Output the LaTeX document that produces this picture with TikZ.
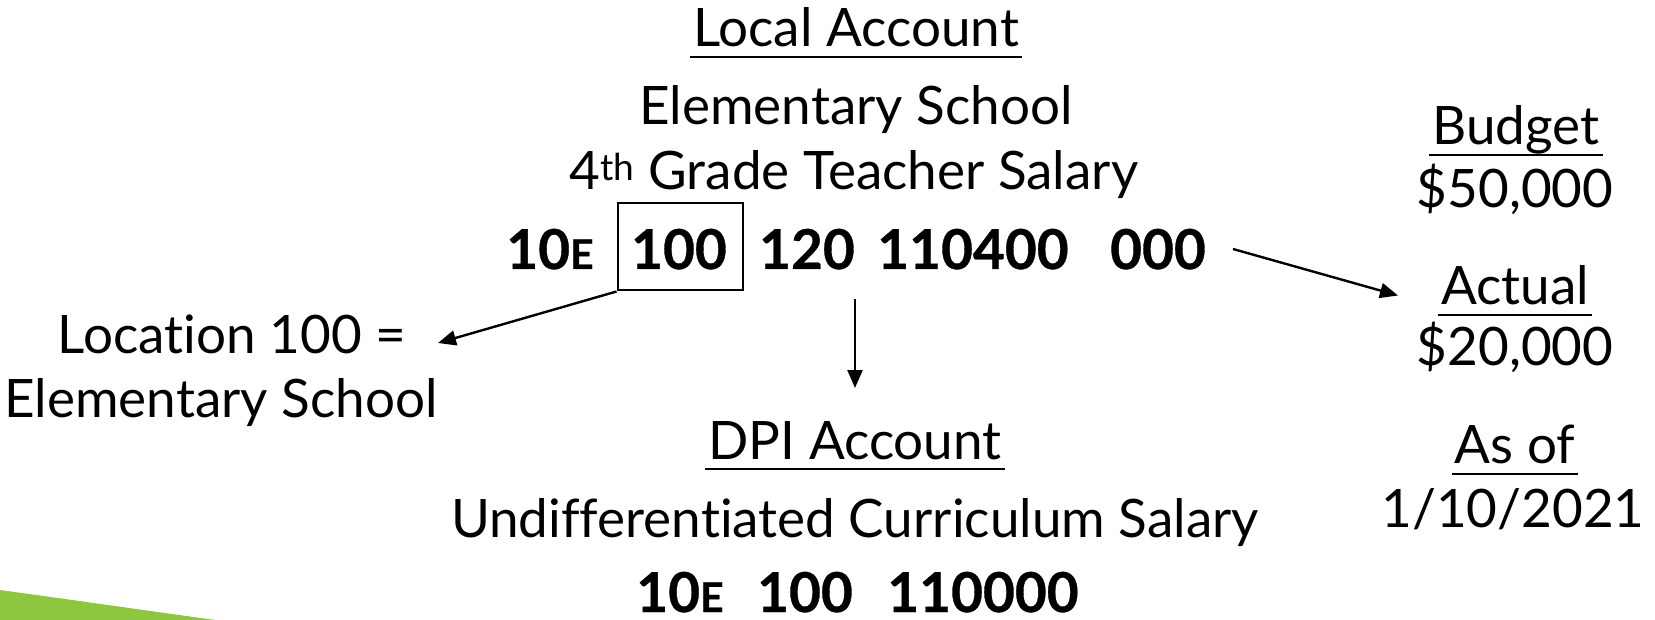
\documentclass[tikz,border=0pt]{standalone}
\usepackage{fontspec}
\setmainfont{Lato}[Ligatures=NoCommon]
\newfontfamily\codefont{Lato}[BoldFeatures={FakeBold=0.6}]
\usetikzlibrary{arrows.meta}
\definecolor{leaf}{HTML}{8DC63F}
\newcommand{\smE}{{\fontsize{41}{44}\selectfont E}}
\begin{document}
\begin{tikzpicture}[x=1pt,y=-1pt,
  txt/.style={inner sep=0pt, anchor=base, font=\fontsize{53}{60}\selectfont},
  bld/.style={inner sep=0pt, anchor=base, font=\fontsize{55}{60}\selectfont\codefont\bfseries},
  arr/.style={-{Triangle[length=18pt,width=15pt]}, line width=2.4pt},
  uline/.style={line width=2.4pt}]
\useasboundingbox (0,0) rectangle (1655,620);
\fill[leaf] (0,590) .. controls (80,601) and (150,611) .. (215,620) -- (0,620) -- cycle;

% Local account
\node[txt] (la) at (856,47) {Local Account};
\draw[uline] ([xshift=-3pt,yshift=-10pt]la.base west) -- ([xshift=3pt,yshift=-10pt]la.base east);
\node[txt] (es) at (856,125) {Elementary School};
\node[txt] (gt) at (854,190) {4\textsuperscript{th} Grade Teacher Salary};

% code line
\node[bld] (c1) at (550,269) {10\smE};
\node[bld] (c2) at (679,269) {100};
\node[draw, line width=2pt, minimum width=125pt, minimum height=87pt, inner sep=0pt] (bx) at (680,247) {};
\node[bld] (c3) at (807,269) {120};
\node[bld] (c4) at (973,269) {110400};
\node[bld] (c5) at (1158,269) {000};

% left note
\node[txt] (loc1) at (232,353) {Location 100 =};
\node[txt] (loc2) at (221,417) {Elementary School};

% DPI
\node[txt] (dpi) at (855,459) {DPI Account};
\draw[uline] ([xshift=-3pt,yshift=-10pt]dpi.base west) -- ([xshift=3pt,yshift=-10pt]dpi.base east);
\node[txt] (uc) at (855,537) {Undifferentiated Curriculum Salary};
\node[bld, text depth=0pt] (d1) at (680,612) {10\smE};
\node[bld, text depth=0pt] (d2) at (805,612) {100};
\node[bld, text depth=0pt] (d3) at (983,612) {110000};

% right column
\node[txt] (bu) at (1516,145) {Budget};
\draw[uline] ([xshift=-3pt,yshift=-10pt]bu.base west) -- ([xshift=3pt,yshift=-10pt]bu.base east);
\node[txt] (bv) at (1515,208) {\$50,000};
\node[txt] (ac) at (1515,305) {Actual};
\draw[uline] ([xshift=-3pt,yshift=-10pt]ac.base west) -- ([xshift=3pt,yshift=-10pt]ac.base east);
\node[txt] (av) at (1515,366) {\$20,000};
\node[txt] (as) at (1515,463) {As of};
\draw[uline] ([xshift=-3pt,yshift=-11pt]as.base west) -- ([xshift=3pt,yshift=-11pt]as.base east);
\node[txt] (ad) at (1513,527) {1/10/2021};

% arrows
\coordinate (a1e) at (438,343);
\draw[arr] (bx.south west) -- (a1e);
\coordinate (a2s) at (855,299);
\coordinate (a2e) at (855,388);
\draw[arr] (a2s) -- (a2e);
\coordinate (a3s) at (1233,249);
\coordinate (a3e) at (1398,295.5);
\draw[arr] (a3s) -- (a3e);
\end{tikzpicture}
\end{document}
